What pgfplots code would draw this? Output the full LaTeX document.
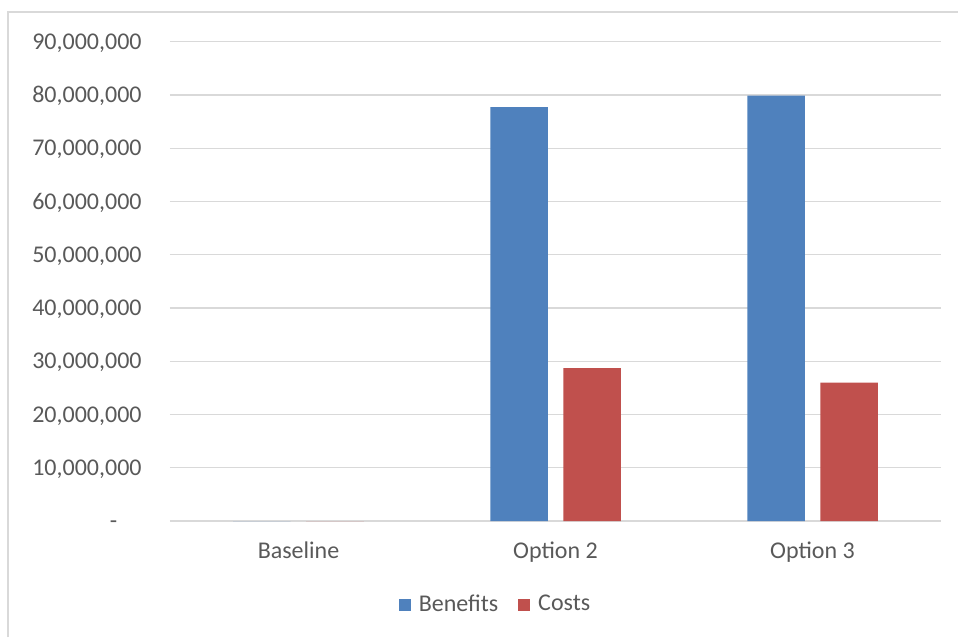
\documentclass[border=0pt]{standalone}
\usepackage{fontspec}
\setmainfont{Carlito}
\usepackage{pgfplots}
\pgfplotsset{compat=1.18}
\definecolor{benefitblue}{HTML}{4F81BD}
\definecolor{costred}{HTML}{C0504D}
\definecolor{gridgray}{HTML}{D9D9D9}
\definecolor{labelgray}{HTML}{595959}
\begin{document}
\begin{tikzpicture}
\fontsize{12}{14}\selectfont
% canvas and chart frame (left and top edges only)
\path[use as bounding box] (0pt,0pt) rectangle (479pt,318.5pt);
\draw[gridgray, line width=0.65pt] (4pt,0pt) -- (4pt,312.5pt) -- (479pt,312.5pt);
\begin{axis}[
  at={(85pt,58pt)}, anchor=south west,
  scale only axis, width=385.5pt, height=239.65pt,
  xmin=-0.5, xmax=2.5, ymin=0, ymax=90000000,
  ybar=7.75pt, bar width=28.75pt,
  axis line style={draw=none},
  major tick length=0pt,
  ymajorgrids, grid style={gridgray, line width=0.7pt},
  xtick={0,1,2}, xticklabels={Baseline, Option 2, Option 3},
  ytick={0,10000000,20000000,30000000,40000000,50000000,60000000,70000000,80000000,90000000},
  yticklabels={{-\hphantom{00}},{10,000,000},{20,000,000},{30,000,000},{40,000,000},{50,000,000},{60,000,000},{70,000,000},{80,000,000},{90,000,000}},
  scaled y ticks=false,
  tick label style={font=\fontsize{12}{14}\selectfont, text=labelgray},
  yticklabel style={anchor=base east, inner sep=0pt, xshift=-14pt, yshift=-3.8pt},
  xticklabel style={anchor=base, inner sep=0pt, yshift=-18.75pt},
  legend style={at={(0.4235,-0.175)}, anchor=center, draw=none, fill=none,
    legend columns=-1, font=\fontsize{12}{14}\selectfont, text=labelgray,
    inner sep=0pt,
    /tikz/every odd column/.append style={column sep=2pt},
    /tikz/every even column/.append style={column sep=8pt}},
  legend cell align=left,
  legend image code/.code={\fill[#1] (0pt,-3pt) rectangle (6pt,3pt);},
]
\addplot[fill=benefitblue, draw=none] coordinates {(0,0) (1,77700000) (2,79900000)};
\addplot[fill=costred, draw=none] coordinates {(0,0) (1,28700000) (2,26000000)};
\legend{Benefits, Costs}
\end{axis}
\end{tikzpicture}
\end{document}
